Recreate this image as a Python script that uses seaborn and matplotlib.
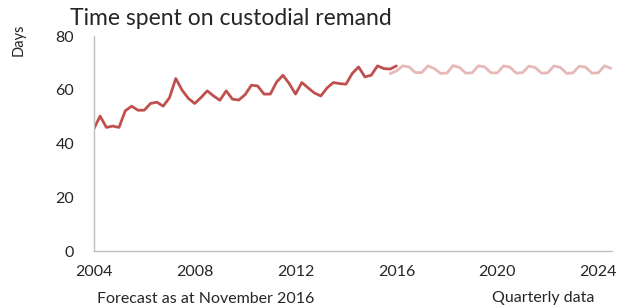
import numpy as np
import pandas as pd
import seaborn as sns
import matplotlib.pyplot as plt

# Quarterly data, years as decimals (Q1 = .00)
hist_start, hist_end = 2004.0, 2016.0
fcst_start, fcst_end = 2015.75, 2024.5

hist_days = [45.4, 50.2, 46.0, 46.5, 46.0, 52.2, 53.9, 52.4, 52.4, 54.9,
             55.4, 53.9, 57.0, 64.2, 59.9, 56.8, 54.9, 57.1, 59.6, 57.7,
             56.1, 59.6, 56.5, 56.2, 58.2, 61.7, 61.4, 58.4, 58.4, 62.9,
             65.4, 62.3, 58.4, 62.7, 60.7, 58.8, 57.7, 60.7, 62.7, 62.3,
             62.1, 66.1, 68.5, 64.8, 65.4, 68.9, 67.9, 67.7, 68.9]

fcst_days = [66.0, 67.0, 68.9, 68.5, 66.4, 66.4, 68.9, 67.9, 66.1, 66.2,
             69.0, 68.3, 66.2, 66.3, 68.9, 68.5, 66.3, 66.3, 68.9, 68.4,
             66.2, 66.4, 68.8, 68.3, 66.2, 66.3, 68.9, 68.3, 66.1, 66.3,
             68.8, 68.4, 66.2, 66.3, 68.9, 68.0]

year_ticks = [2004, 2008, 2012, 2016, 2020, 2024]
day_ticks = [0, 20, 40, 60, 80]

hist = pd.DataFrame({'year': np.arange(hist_start, hist_end + 0.01, 0.25),
                     'days': hist_days})
fcst = pd.DataFrame({'year': np.arange(fcst_start, fcst_end + 0.01, 0.25),
                     'days': fcst_days})

sns.set_style('white')
plt.rcParams['font.family'] = ['Lato', 'DejaVu Sans']

fig = plt.figure(figsize=(6.17, 3.08), dpi=100)
ax = fig.add_axes([0.152, 0.185, 0.840, 0.698])

sns.lineplot(data=fcst, x='year', y='days', color='#e6b9b8', linewidth=2, ax=ax)
sns.lineplot(data=hist, x='year', y='days', color='#c0504d', linewidth=2, ax=ax)

ax.set_xlim(2004, 2024.55)
ax.set_ylim(0, 80)
ax.set_xticks(year_ticks)
ax.set_yticks(day_ticks)
ax.tick_params(axis='x', direction='in', length=4, color='#bfbfbf', pad=10, labelsize=11.5)
ax.tick_params(axis='y', length=0, pad=14, labelsize=11.5)

for side in ['top', 'right']:
    ax.spines[side].set_visible(False)
for side in ['left', 'bottom']:
    ax.spines[side].set_color('#bfbfbf')
    ax.spines[side].set_linewidth(1)

ax.set_xlabel('')
ax.set_ylabel('')
fig.text(0.113, 0.905, 'Time spent on custodial remand', fontsize=16.5, ha='left', va='bottom')
fig.text(0.03, 0.87, 'Days', rotation=90, fontsize=10.5, ha='center', va='center')
fig.text(0.158, 0.005, 'Forecast as at November 2016', fontsize=11.5, ha='left', va='bottom')
fig.text(0.797, 0.01, 'Quarterly data', fontsize=11.5, ha='left', va='bottom')

fig.savefig('out.png', dpi=100)
